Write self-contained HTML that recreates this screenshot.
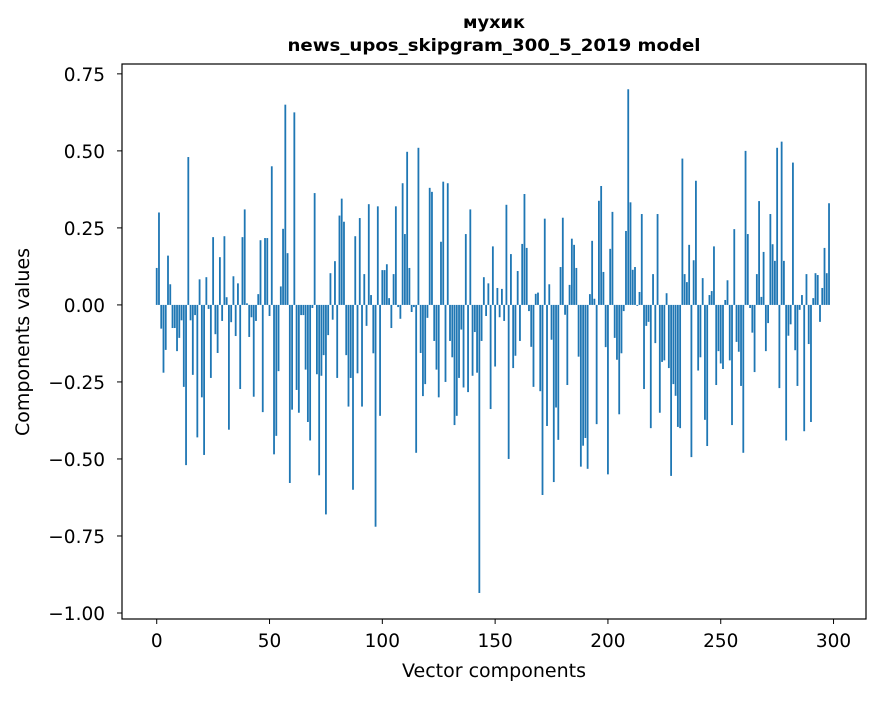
<!DOCTYPE html>
<html><head><meta charset="utf-8"><style>
body{margin:0;background:#fff;}
svg text{font-family:"DejaVu Sans","Liberation Sans",sans-serif;}
</style></head><body>
<svg id="chart" width="880" height="696" viewBox="0 0 880 696" xmlns="http://www.w3.org/2000/svg">
<rect x="0" y="0" width="880" height="696" fill="#fff"/>
<text x="494" y="28" text-anchor="middle" font-size="16.5" font-weight="bold" textLength="62" lengthAdjust="spacingAndGlyphs">мухик</text>
<text x="494" y="51" text-anchor="middle" font-size="17" font-weight="bold" textLength="413" lengthAdjust="spacingAndGlyphs">news_upos_skipgram_300_5_2019 model</text>
<g id="bars"></g>
<g id="axes"></g>
<rect x="122" y="64" width="744" height="555" fill="none" stroke="#000" stroke-width="1.2"/>
<text x="494" y="677" text-anchor="middle" font-size="19">Vector components</text>
<text transform="translate(29,342) rotate(-90)" text-anchor="middle" font-size="19">Components values</text>
</svg>
<script>
const values = [
0.12,0.30,-0.077,-0.22,-0.146,0.16,0.067,-0.075,-0.075,-0.15,-0.107,-0.05,-0.266,-0.52,0.48,-0.05,-0.227,-0.033,-0.43,0.083,-0.30,-0.487,0.09,-0.013,-0.237,0.22,-0.095,-0.156,0.155,-0.052,0.223,0.025,-0.405,-0.056,0.093,-0.101,0.07,-0.273,0.22,0.31,0.005,-0.104,-0.04,-0.298,-0.052,0.035,0.21,-0.348,0.217,0.217,
-0.036,0.45,-0.485,-0.425,-0.215,0.06,0.247,0.65,0.168,-0.578,-0.34,0.625,-0.276,-0.35,-0.033,-0.033,-0.21,-0.38,-0.44,-0.01,0.363,-0.225,-0.553,-0.23,-0.163,-0.68,-0.098,0.103,-0.048,0.142,-0.237,0.29,0.345,0.27,-0.163,-0.33,-0.237,-0.6,0.223,-0.222,0.282,-0.33,0.1,-0.068,0.327,0.032,-0.157,-0.72,0.32,-0.36,
0.113,0.113,0.132,0.022,-0.075,0.1,0.32,-0.007,-0.045,0.395,0.23,0.497,0.12,-0.023,-0.007,-0.48,0.51,-0.156,-0.296,-0.257,-0.042,0.38,0.367,-0.117,-0.21,-0.3,0.205,0.40,-0.25,0.395,-0.117,-0.17,-0.39,-0.36,-0.237,-0.08,-0.268,0.23,-0.283,0.31,-0.23,-0.088,-0.22,-0.935,-0.117,0.09,-0.036,0.07,-0.338,
0.19,-0.2,0.055,-0.04,0.052,-0.052,0.325,-0.5,0.165,-0.205,-0.165,0.11,-0.117,0.198,0.36,0.185,-0.02,-0.136,-0.266,0.036,0.04,-0.28,-0.617,0.28,-0.393,0.067,-0.113,-0.575,-0.333,-0.438,0.123,0.283,-0.032,-0.26,0.065,0.215,0.195,0.12,-0.168,-0.525,-0.457,-0.432,-0.532,0.035,0.208,0.02,-0.387,0.338,0.386,0.107,
-0.137,-0.55,0.182,0.302,-0.107,-0.178,-0.355,-0.157,-0.02,0.24,0.70,0.333,0.114,0.123,-0.003,0.042,0.295,-0.273,-0.068,-0.055,-0.4,0.1,-0.124,0.295,-0.35,-0.185,-0.18,0.038,-0.205,-0.555,-0.257,-0.295,-0.396,-0.4,0.475,0.1,0.074,0.195,-0.494,0.145,0.403,-0.213,-0.17,0.087,-0.373,-0.458,0.032,0.045,0.19,-0.26,
-0.15,-0.19,-0.208,0.016,0.08,-0.18,-0.39,0.246,-0.12,-0.152,-0.263,-0.48,0.5,0.23,-0.01,-0.09,-0.218,0.1,0.337,0.026,0.172,-0.15,-0.059,0.295,0.197,0.143,0.51,-0.27,0.53,0.143,-0.44,-0.1,-0.063,0.462,-0.147,-0.263,-0.016,0.032,-0.41,0.1,-0.127,-0.38,0.022,0.103,0.097,-0.055,0.055,0.185,0.103,0.33
];
const xTicks = [0,50,100,150,200,250,300];
const yTicks = [0.75,0.5,0.25,0,-0.25,-0.5,-0.75,-1.0];
const yTickLabels = ["0.75","0.50","0.25","0.00","\u22120.25","\u22120.50","\u22120.75","\u22121.00"];

const X0=122, X1=866, Y0=64, Y1=619;
const xMin=-15.39, xMax=314.39, yMin=-1.0195, yMax=0.782;
const xs = v => X0 + (v - xMin) / (xMax - xMin) * (X1 - X0);
const ys = v => Y1 - (v - yMin) / (yMax - yMin) * (Y1 - Y0);
const NS="http://www.w3.org/2000/svg";
const bars=document.getElementById('bars');
const axes=document.getElementById('axes');
const bw = xs(0.8) - xs(0);
values.forEach((v,i)=>{
  const r=document.createElementNS(NS,'rect');
  
  
  const a=ys(Math.max(v,0)), b=ys(Math.min(v,0));
  r.setAttribute('x', xs(i) - bw/2);
  r.setAttribute('y', a);
  r.setAttribute('width', bw);
  r.setAttribute('height', Math.max(b-a,0.01));
  r.setAttribute('fill','#1f77b4');
  bars.appendChild(r);
});
xTicks.forEach(t=>{
  const x=xs(t);
  const l=document.createElementNS(NS,'line');
  
  
  l.setAttribute('x1',x);l.setAttribute('x2',x);l.setAttribute('y1',Y1);l.setAttribute('y2',Y1+5);
  l.setAttribute('stroke','#000');
  axes.appendChild(l);
  const tx=document.createElementNS(NS,'text');
  
  
  tx.setAttribute('x',x);tx.setAttribute('y',Y1+28);
  tx.setAttribute('text-anchor','middle');tx.setAttribute('font-size','18.5');
  tx.textContent=String(t);
  axes.appendChild(tx);
});
yTicks.forEach((t,i)=>{
  const y=ys(t);
  const l=document.createElementNS(NS,'line');
  
  
  l.setAttribute('x1',X0-5);l.setAttribute('x2',X0);l.setAttribute('y1',y);l.setAttribute('y2',y);
  l.setAttribute('stroke','#000');
  axes.appendChild(l);
  const tx=document.createElementNS(NS,'text');
  
  
  tx.setAttribute('x',X0-17);tx.setAttribute('y',y+7);
  tx.setAttribute('text-anchor','end');tx.setAttribute('font-size','18.5');
  tx.textContent=yTickLabels[i];
  axes.appendChild(tx);
});
</script>
</body></html>
